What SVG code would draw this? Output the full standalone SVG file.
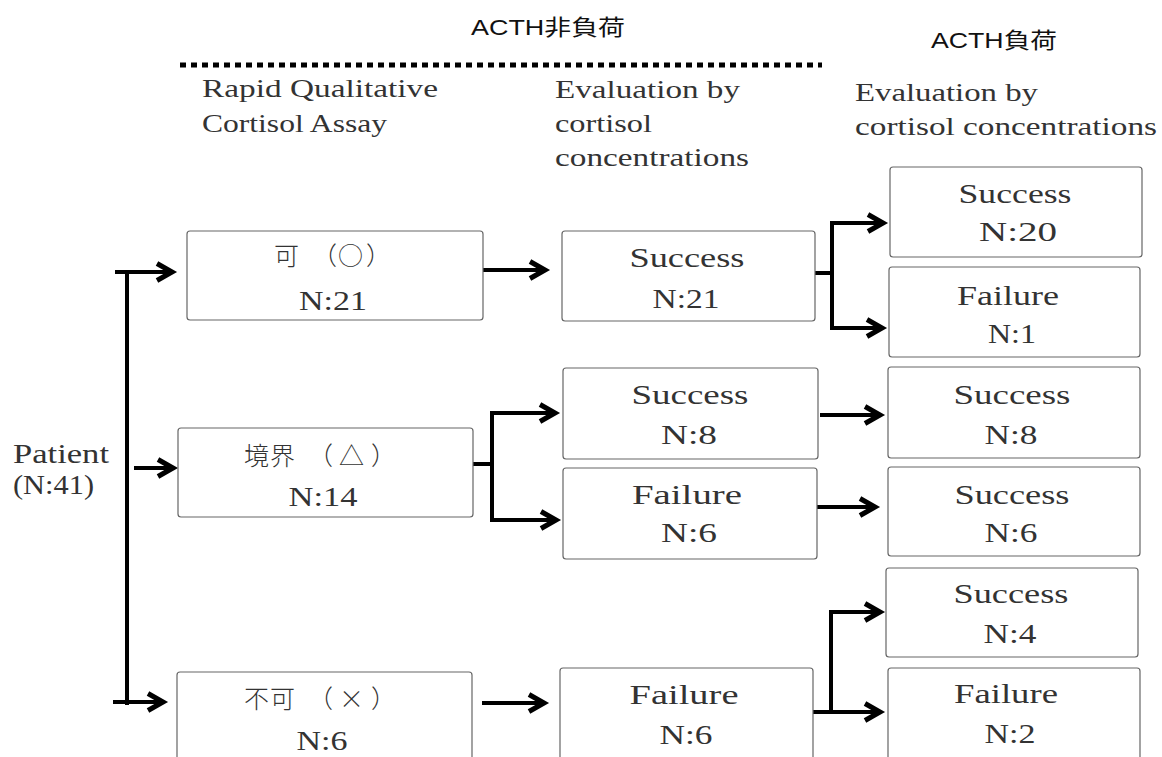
<svg xmlns="http://www.w3.org/2000/svg" width="1162" height="757" viewBox="0 0 1162 757">
<defs>
<style>
.bx{fill:#fff;stroke:#666;stroke-width:1.2}
.t{font-family:"Liberation Serif","Noto Sans CJK JP",serif;font-size:27px;fill:#333}
.h{font-family:"Liberation Serif","Noto Sans CJK JP",serif;font-size:26px;fill:#333}
.j{font-family:"Noto Sans CJK JP","Liberation Serif",sans-serif;font-size:25px;font-weight:300;fill:#333}
.s{font-family:"Liberation Sans","Noto Sans CJK JP",sans-serif;font-size:22px;fill:#111}
.c{fill:none;stroke:#000;stroke-width:4;stroke-linejoin:miter}
.a{marker-end:url(#ah)}
</style>
<marker id="ah" markerUnits="userSpaceOnUse" markerWidth="26" markerHeight="26" viewBox="0 0 26 24" refX="18" refY="12" orient="auto">
<path d="M3,3.5 L18,12 L3,20.5" fill="none" stroke="#000" stroke-width="5"/>
</marker>
</defs>

<g id="headers">
<text class="s" x="471" y="35" textLength="154" lengthAdjust="spacingAndGlyphs">ACTH非負荷</text>
<text class="s" x="931" y="48" textLength="126" lengthAdjust="spacingAndGlyphs">ACTH負荷</text>
<line x1="180" y1="65" x2="822" y2="65" stroke="#000" stroke-width="5" stroke-dasharray="6 5"/>
<text class="h" x="202" y="97" textLength="236" lengthAdjust="spacingAndGlyphs">Rapid Qualitative</text>
<text class="h" x="202" y="132" textLength="185" lengthAdjust="spacingAndGlyphs">Cortisol Assay</text>
<text class="h" x="555" y="98" textLength="185" lengthAdjust="spacingAndGlyphs">Evaluation by</text>
<text class="h" x="555" y="132" textLength="97" lengthAdjust="spacingAndGlyphs">cortisol</text>
<text class="h" x="555" y="166" textLength="194" lengthAdjust="spacingAndGlyphs">concentrations</text>
<text class="h" x="855" y="101" textLength="183" lengthAdjust="spacingAndGlyphs">Evaluation by</text>
<text class="h" x="855" y="135" textLength="302" lengthAdjust="spacingAndGlyphs">cortisol concentrations</text>
</g>

<g id="patient">
<text class="t" x="13" y="463" textLength="96" lengthAdjust="spacingAndGlyphs">Patient</text>
<text class="t" x="13" y="494" textLength="81" lengthAdjust="spacingAndGlyphs">(N:41)</text>
</g>

<g id="connectors">
<path class="c" d="M127,272 V705"/>
<path class="c a" d="M115,272 H172"/>
<path class="c a" d="M134,468 H173"/>
<path class="c a" d="M113,702 H163"/>
<path class="c a" d="M483,270 H545"/>
<path class="c" d="M473,464 H492"/>
<path class="c a" d="M492,464 V413 H555"/>
<path class="c a" d="M492,464 V520 H556"/>
<path class="c a" d="M482,703 H544"/>
<path class="c" d="M815,273 H832"/>
<path class="c a" d="M832,273 V223 H883"/>
<path class="c a" d="M832,273 V328 H882"/>
<path class="c a" d="M820,415 H880"/>
<path class="c a" d="M816,507 H875"/>
<path class="c a" d="M813,712 H880"/>
<path class="c a" d="M831,712 V612 H880"/>
</g>

<g id="n-ka">
<rect class="bx" x="187" y="231" width="296" height="89" rx="3"/>
<text class="j" y="265"><tspan x="274">可</tspan><tspan x="312">（</tspan><tspan x="338">○</tspan><tspan x="366">）</tspan></text>
<text class="t" x="333" y="310" text-anchor="middle" textLength="68" lengthAdjust="spacingAndGlyphs">N:21</text>
</g>
<g id="n-kyokai">
<rect class="bx" x="178" y="428" width="295" height="89" rx="3"/>
<text class="j" y="465"><tspan x="244">境</tspan><tspan x="270">界</tspan><tspan x="308">（</tspan><tspan x="339">△</tspan><tspan x="371">）</tspan></text>
<text class="t" x="323" y="506" text-anchor="middle" textLength="69" lengthAdjust="spacingAndGlyphs">N:14</text>
</g>
<g id="n-fuka">
<rect class="bx" x="177" y="672" width="295" height="100" rx="3"/>
<text class="j" y="708"><tspan x="244">不</tspan><tspan x="270">可</tspan><tspan x="308">（</tspan><tspan x="339">×</tspan><tspan x="371">）</tspan></text>
<text class="t" x="322" y="750" text-anchor="middle" textLength="51" lengthAdjust="spacingAndGlyphs">N:6</text>
</g>

<g id="m-success21">
<rect class="bx" x="562" y="231" width="253" height="90" rx="3"/>
<text class="t" x="687" y="267" text-anchor="middle" textLength="115" lengthAdjust="spacingAndGlyphs">Success</text>
<text class="t" x="686" y="308" text-anchor="middle" textLength="67" lengthAdjust="spacingAndGlyphs">N:21</text>
</g>
<g id="m-success8">
<rect class="bx" x="563" y="368" width="255" height="91" rx="3"/>
<text class="t" x="690" y="404" text-anchor="middle" textLength="117" lengthAdjust="spacingAndGlyphs">Success</text>
<text class="t" x="689" y="444" text-anchor="middle" textLength="56" lengthAdjust="spacingAndGlyphs">N:8</text>
</g>
<g id="m-failure6">
<rect class="bx" x="563" y="468" width="254" height="91" rx="3"/>
<text class="t" x="687" y="504" text-anchor="middle" textLength="110" lengthAdjust="spacingAndGlyphs">Failure</text>
<text class="t" x="689" y="542" text-anchor="middle" textLength="56" lengthAdjust="spacingAndGlyphs">N:6</text>
</g>
<g id="m-failure6b">
<rect class="bx" x="560" y="668" width="253" height="100" rx="3"/>
<text class="t" x="684" y="704" text-anchor="middle" textLength="109" lengthAdjust="spacingAndGlyphs">Failure</text>
<text class="t" x="686" y="744" text-anchor="middle" textLength="53" lengthAdjust="spacingAndGlyphs">N:6</text>
</g>

<g id="r-success20">
<rect class="bx" x="890" y="167" width="252" height="90" rx="3"/>
<text class="t" x="1015" y="203" text-anchor="middle" textLength="113" lengthAdjust="spacingAndGlyphs">Success</text>
<text class="t" x="1018" y="241" text-anchor="middle" textLength="78" lengthAdjust="spacingAndGlyphs">N:20</text>
</g>
<g id="r-failure1">
<rect class="bx" x="889" y="267" width="251" height="90" rx="3"/>
<text class="t" x="1008" y="305" text-anchor="middle" textLength="102" lengthAdjust="spacingAndGlyphs">Failure</text>
<text class="t" x="1012" y="343" text-anchor="middle" textLength="48" lengthAdjust="spacingAndGlyphs">N:1</text>
</g>
<g id="r-success8">
<rect class="bx" x="888" y="367" width="252" height="91" rx="3"/>
<text class="t" x="1012" y="404" text-anchor="middle" textLength="117" lengthAdjust="spacingAndGlyphs">Success</text>
<text class="t" x="1011" y="444" text-anchor="middle" textLength="53" lengthAdjust="spacingAndGlyphs">N:8</text>
</g>
<g id="r-success6">
<rect class="bx" x="888" y="467" width="252" height="89" rx="3"/>
<text class="t" x="1012" y="504" text-anchor="middle" textLength="115" lengthAdjust="spacingAndGlyphs">Success</text>
<text class="t" x="1011" y="542" text-anchor="middle" textLength="53" lengthAdjust="spacingAndGlyphs">N:6</text>
</g>
<g id="r-success4">
<rect class="bx" x="886" y="568" width="252" height="89" rx="3"/>
<text class="t" x="1011" y="603" text-anchor="middle" textLength="115" lengthAdjust="spacingAndGlyphs">Success</text>
<text class="t" x="1010" y="643" text-anchor="middle" textLength="53" lengthAdjust="spacingAndGlyphs">N:4</text>
</g>
<g id="r-failure2">
<rect class="bx" x="888" y="668" width="252" height="100" rx="3"/>
<text class="t" x="1006" y="703" text-anchor="middle" textLength="104" lengthAdjust="spacingAndGlyphs">Failure</text>
<text class="t" x="1010" y="743" text-anchor="middle" textLength="51" lengthAdjust="spacingAndGlyphs">N:2</text>
</g>
</svg>
